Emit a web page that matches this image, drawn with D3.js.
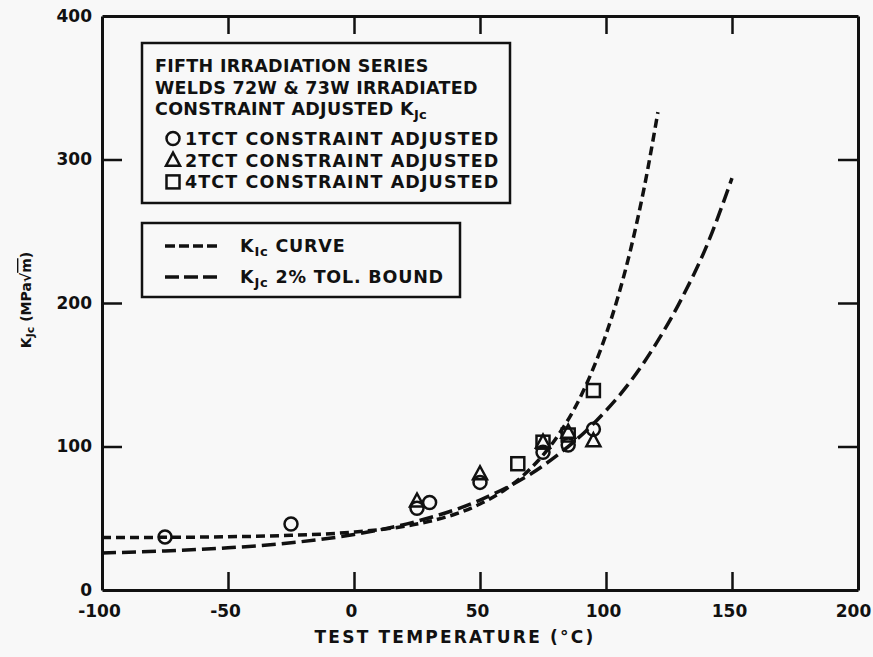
<!DOCTYPE html>
<html>
<head>
<meta charset="utf-8">
<script src="https://cdn.jsdelivr.net/npm/d3@7"></script>
<style>
  body { margin: 0; background: #f8f8f8; }
  text { font-family: "DejaVu Sans", sans-serif; font-weight: bold; fill: #111; }
</style>
</head>
<body>
<div id="chart"></div>
<script>
// Data
var xTicks = [-100, -50, 0, 50, 100, 150, 200];
var yTicks = [0, 100, 200, 300, 400];

// test temperature (C), KJc (MPa sqrt m)
var circles1T = [[-75, 37], [-25, 46], [25, 57], [30, 61], [50, 75], [75, 96], [85, 101], [95, 112]];
var triangles2T = [[25, 62], [50, 81], [75, 103], [85, 110], [95, 104]];
var squares4T = [[65, 88], [75, 103], [85, 108], [95, 139]];

// curves, points estimated along the drawn lines
var kIcCurve = [[-100, 36.6], [-75, 36.7], [-50, 37.1], [-25, 38.1], [0, 40.4], [20, 44.4], [30, 47.9],
    [40, 52.8], [50, 59.9], [60, 70], [70, 84.5], [80, 105.3], [90, 135], [100, 178], [105, 205.7],
    [110, 239], [115, 279], [120.6, 333]];
var tolBound = [[-100, 25.8], [-75, 27.2], [-50, 29.4], [-25, 32.9], [0, 38.7], [25, 47.9], [50, 62.7],
    [75, 86.6], [100, 125], [110, 146], [120, 172], [130, 203], [140, 240], [150, 287]];

var legendTitle = ["FIFTH IRRADIATION SERIES", "WELDS 72W & 73W IRRADIATED", "CONSTRAINT ADJUSTED K"];

var width = 873, height = 657;
var margin = {top: 16, right: 15, bottom: 67, left: 102};

var svg = d3.select("#chart")
    .append("svg")
    .attr("width", width)
    .attr("height", height);

var x = d3.scaleLinear().domain([-100, 200]).range([margin.left, width - margin.right]);
var y = d3.scaleLinear().domain([0, 400]).range([height - margin.bottom, margin.top]);

var ink = "#111";

// axes, ticks pointing inward
var gx = svg.append("g")
    .attr("transform", `translate(0,${y(0)})`)
    .call(d3.axisBottom(x).tickValues(xTicks).tickSizeInner(-18).tickSizeOuter(0).tickPadding(15));
var gy = svg.append("g")
    .attr("transform", `translate(${x(-100)},0)`)
    .call(d3.axisLeft(y).tickValues(yTicks).tickSizeInner(-20).tickSizeOuter(0).tickPadding(10));
var gt = svg.append("g")
    .attr("transform", `translate(0,${y(400)})`)
    .call(d3.axisTop(x).tickValues(xTicks).tickSizeInner(-18).tickSizeOuter(0).tickFormat(""));
var gr = svg.append("g")
    .attr("transform", `translate(${x(200)},0)`)
    .call(d3.axisRight(y).tickValues(yTicks).tickSizeInner(-20).tickSizeOuter(0).tickFormat(""));

[gx, gy, gt, gr].forEach(function(g) {
    g.select(".domain").attr("stroke", ink).attr("stroke-width", 3);
    g.selectAll(".tick line").attr("stroke", ink).attr("stroke-width", 2.5);
    g.selectAll(".tick text").attr("font-size", 17).attr("fill", ink)
        .attr("font-family", "DejaVu Sans").attr("font-weight", "bold");
});
gx.selectAll(".tick text")
    .text(d => d < 0 ? "-" + Math.abs(d) : d)
    .attr("dx", d => d === 200 ? -5 : -3);
// hide the edge ticks that would overlap the frame
gy.selectAll(".tick line").filter(d => d === 0 || d === 400).remove();
gr.selectAll(".tick line").filter(d => d === 0 || d === 400).remove();
gx.selectAll(".tick line").filter(d => d === -100 || d === 200).remove();
gt.selectAll(".tick line").filter(d => d === -100 || d === 200).remove();

// axis titles
svg.append("text")
    .attr("x", 455)
    .attr("y", 643)
    .attr("text-anchor", "middle")
    .attr("font-size", 17)
    .attr("letter-spacing", 2.2)
    .text("TEST TEMPERATURE (°C)");

var yl = svg.append("text")
    .attr("transform", "translate(31,300) rotate(-90)")
    .attr("text-anchor", "middle")
    .attr("font-size", 14);
yl.append("tspan").text("K");
yl.append("tspan").attr("font-size", 11).attr("dy", 3).text("Jc");
yl.append("tspan").attr("dy", -3).text(" (MPa√");
yl.append("tspan").attr("text-decoration", "overline").text("m");
yl.append("tspan").text(")");

// curves
var line = d3.line()
    .x(d => x(d[0]))
    .y(d => y(d[1]))
    .curve(d3.curveMonotoneX);

svg.append("path")
    .datum(kIcCurve)
    .attr("d", line)
    .attr("fill", "none")
    .attr("stroke", ink)
    .attr("stroke-width", 3.5)
    .attr("stroke-dasharray", "9,5");

svg.append("path")
    .datum(tolBound)
    .attr("d", line)
    .attr("fill", "none")
    .attr("stroke", ink)
    .attr("stroke-width", 3.5)
    .attr("stroke-dasharray", "14,6");

// markers
var r = 6.5;
function drawCircle(g, cx, cy) {
    g.append("circle").attr("cx", cx).attr("cy", cy).attr("r", r)
        .attr("fill", "none").attr("stroke", ink).attr("stroke-width", 2.5);
}
function drawTriangle(g, cx, cy) {
    g.append("path")
        .attr("d", `M${cx},${cy - r - 1}L${cx + r + 0.5},${cy + r - 1}L${cx - r - 0.5},${cy + r - 1}Z`)
        .attr("fill", "none").attr("stroke", ink).attr("stroke-width", 2.5);
}
function drawSquare(g, cx, cy) {
    g.append("rect").attr("x", cx - r).attr("y", cy - r).attr("width", 2 * r).attr("height", 2 * r)
        .attr("fill", "none").attr("stroke", ink).attr("stroke-width", 2.5);
}

var marks = svg.append("g");
squares4T.forEach(d => drawSquare(marks, x(d[0]), y(d[1])));
triangles2T.forEach(d => drawTriangle(marks, x(d[0]), y(d[1])));
circles1T.forEach(d => drawCircle(marks, x(d[0]), y(d[1])));

// legend 1
var lg1 = svg.append("g");
lg1.append("rect")
    .attr("x", 142).attr("y", 43).attr("width", 368).attr("height", 160)
    .attr("fill", "#f8f8f8").attr("stroke", ink).attr("stroke-width", 2.5);
legendTitle.forEach(function(t, i) {
    var tx = lg1.append("text")
        .attr("x", 155).attr("y", 72 + i * 21.7)
        .attr("font-size", 17.5)
        .attr("letter-spacing", 0.3)
        .text(t);
    if (i === 2) tx.append("tspan").attr("font-size", 13).attr("dy", 4).text("Jc");
});
var series = [
    {label: "1TCT CONSTRAINT ADJUSTED", draw: drawCircle},
    {label: "2TCT CONSTRAINT ADJUSTED", draw: drawTriangle},
    {label: "4TCT CONSTRAINT ADJUSTED", draw: drawSquare}
];
series.forEach(function(s, i) {
    var by = 145 + i * 21.7;
    s.draw(lg1, 173, by - 6.5);
    lg1.append("text").attr("x", 185).attr("y", by)
        .attr("font-size", 17.5).attr("letter-spacing", 1.1).text(s.label);
});

// legend 2
var lg2 = svg.append("g");
lg2.append("rect")
    .attr("x", 142).attr("y", 223).attr("width", 318).attr("height", 74)
    .attr("fill", "#f8f8f8").attr("stroke", ink).attr("stroke-width", 2.5);
lg2.append("line").attr("x1", 165).attr("x2", 218).attr("y1", 246).attr("y2", 246)
    .attr("stroke", ink).attr("stroke-width", 3.5).attr("stroke-dasharray", "10,4");
lg2.append("line").attr("x1", 165).attr("x2", 218).attr("y1", 277).attr("y2", 277)
    .attr("stroke", ink).attr("stroke-width", 3.5).attr("stroke-dasharray", "14,5");
var t1 = lg2.append("text").attr("x", 240).attr("y", 252).attr("font-size", 17.5).attr("letter-spacing", 0.8);
t1.append("tspan").text("K");
t1.append("tspan").attr("font-size", 13).attr("dy", 4).text("Ic");
t1.append("tspan").attr("dy", -4).text(" CURVE");
var t2 = lg2.append("text").attr("x", 240).attr("y", 283).attr("font-size", 17.5).attr("letter-spacing", 0.8);
t2.append("tspan").text("K");
t2.append("tspan").attr("font-size", 13).attr("dy", 4).text("Jc");
t2.append("tspan").attr("dy", -4).text(" 2% TOL. BOUND");
</script>
</body>
</html>
